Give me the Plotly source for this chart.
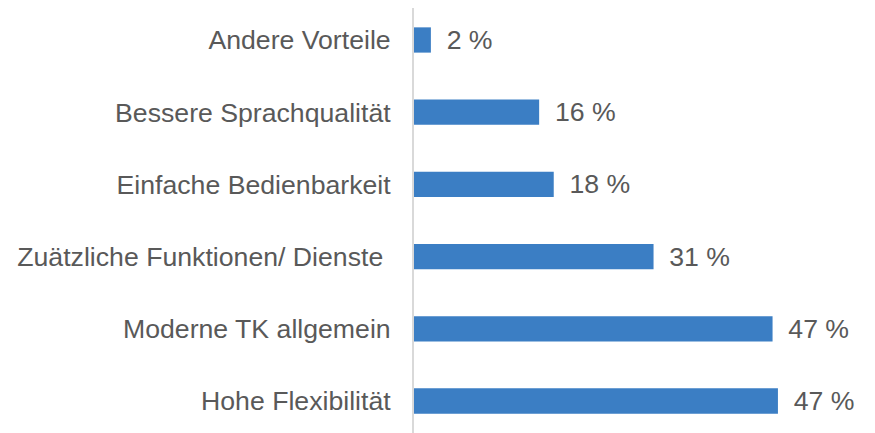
import plotly.graph_objects as go

categories = ["Hohe Flexibilität", "Moderne TK allgemein", "Zuätzliche Funktionen/ Dienste\u00a0",
              "Einfache Bedienbarkeit", "Bessere Sprachqualität", "Andere Vorteile"]
values = [47.4, 46.7, 31.2, 18.2, 16.3, 2.2]
labels = ["47 %", "47 %", "31 %", "18 %", "16 %", "2 %"]

BAR = "#3B7EC4"
TXT = "#595959"
FONT = "Liberation Sans, Arial, sans-serif"
FS = 26.67

fig = go.Figure(go.Bar(
    y=categories, x=values, orientation="h",
    marker=dict(color=BAR, line=dict(width=0)),
    width=0.35,
    text=["\u00a0\u2009" + t for t in labels],
    textposition="outside",
    textfont=dict(family=FONT, size=FS, color=TXT),
    cliponaxis=False,
    constraintext="none",
))

fig.update_layout(
    width=875, height=433,
    margin=dict(l=406, r=16, t=0, b=0, autoexpand=False),
    paper_bgcolor="white", plot_bgcolor="white",
    showlegend=False,
    font=dict(family=FONT, size=FS, color=TXT),
    xaxis=dict(range=[0, 59.0], visible=False, showgrid=False, zeroline=False),
    yaxis=dict(range=[-0.554, 5.443], showgrid=False, zeroline=False,
               showline=True, linecolor="#D9D9D9", linewidth=2,
               ticks="", ticklabelstandoff=16, automargin=False,
               tickfont=dict(family=FONT, size=FS, color=TXT)),
    bargap=0.65,
)

fig.write_html("out.html")
